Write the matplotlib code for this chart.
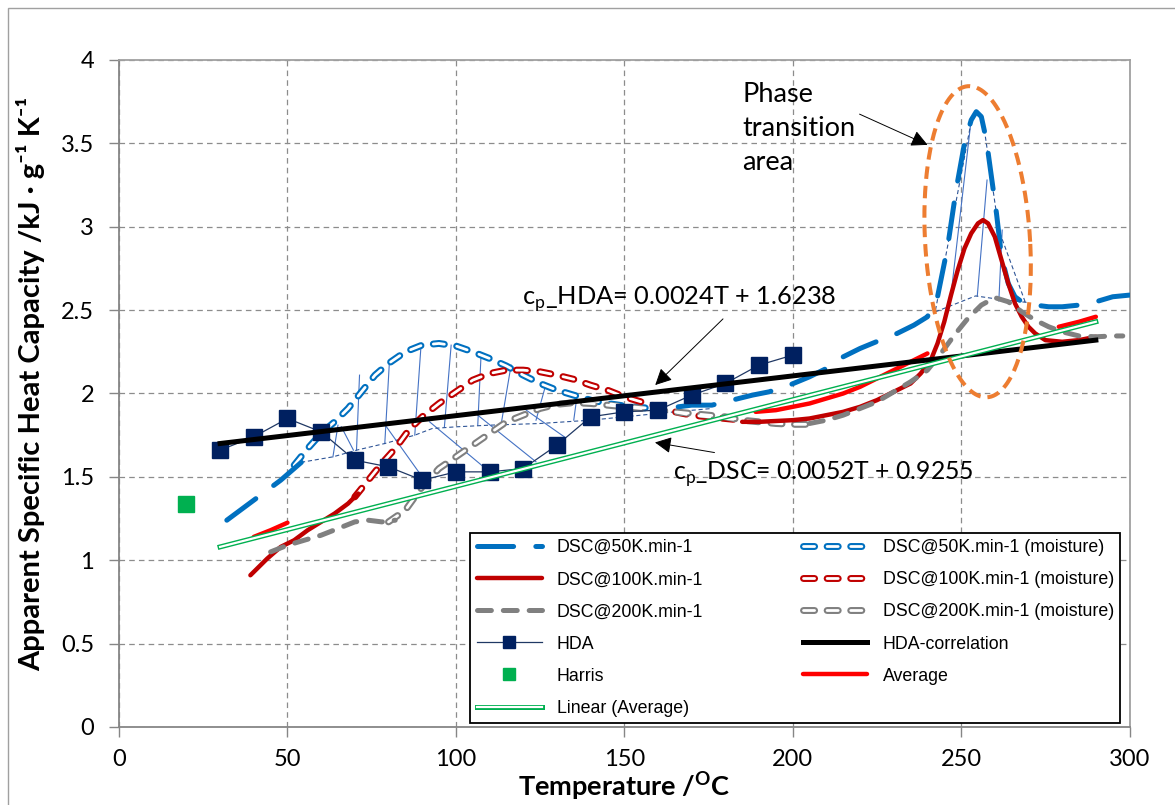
import numpy as np
import matplotlib
matplotlib.use('Agg')
import matplotlib.pyplot as plt
from matplotlib.patches import Rectangle

plt.rcParams['font.family'] = ['Lato', 'DejaVu Sans']
plt.rcParams['mathtext.fontset'] = 'custom'
plt.rcParams['mathtext.rm'] = 'Lato'
plt.rcParams['mathtext.bf'] = 'Lato:bold'
plt.rcParams['lines.scale_dashes'] = False
plt.rcParams['axes.unicode_minus'] = False

nan = np.nan

# HDA measurements
hda_T = [30, 40, 50, 60, 70, 80, 90, 100, 110, 120, 130, 140, 150, 160, 170, 180, 190, 200]
hda_cp = [1.66, 1.74, 1.85, 1.77, 1.60, 1.56, 1.48, 1.53, 1.53, 1.55, 1.69, 1.86, 1.89, 1.90, 1.99, 2.06, 2.17, 2.23]

harris_T = [20]
harris_cp = [1.34]

# DSC 50 K/min (dry part, moisture part)
d50_T = [32, 36, 40, 44, 48, 52, 56, nan,
         166, 170, 176, 182, 188, 193, 199, 205, 210, 215, 220, 226, 231, 236, 240,
         243, 246, 248.5, 251, 253, 254.5, 256, 257.5, 259, 260.5, 262, 264, 266, 268,
         272, 276, 280, 285, 290, 295, 300]
d50_cp = [1.24, 1.30, 1.36, 1.42, 1.48, 1.55, 1.62, nan,
          1.92, 1.93, 1.93, 1.96, 1.99, 2.01, 2.05, 2.10, 2.15, 2.22, 2.27, 2.32, 2.36, 2.41, 2.46,
          2.58, 2.88, 3.22, 3.50, 3.64, 3.69, 3.66, 3.52, 3.30, 3.08, 2.82, 2.66, 2.58, 2.55,
          2.53, 2.52, 2.52, 2.53, 2.55, 2.58, 2.59]
d50m_T = [52, 56, 60, 64, 68, 72, 76, 80, 85, 90, 95, 100, 105, 110, 115, 120, 125, 130, 135, 140, 145, 150, 155, 160]
d50m_cp = [1.57, 1.67, 1.76, 1.83, 1.91, 2.01, 2.11, 2.18, 2.25, 2.29, 2.30, 2.285, 2.25, 2.21, 2.165, 2.11,
           2.06, 2.02, 1.99, 1.96, 1.94, 1.925, 1.915, 1.91]

# DSC 100 K/min
d100_T = [39, 44, 48, 52, 56, 60, 64, 68, 71, nan,
          185, 190, 195, 200, 205, 210, 215, 220, 225, 230, 235, 238, 241, 243, 245, 247, 249,
          251, 253, 255, 256.5, 258, 260, 262, 264, 266, 268, 270, 272, 275, 280, 285, 290]
d100_cp = [0.91, 1.01, 1.08, 1.12, 1.18, 1.23, 1.28, 1.34, 1.40, nan,
           1.83, 1.83, 1.835, 1.84, 1.85, 1.87, 1.89, 1.92, 1.96, 2.01, 2.06, 2.12, 2.20, 2.30, 2.43, 2.59, 2.74,
           2.87, 2.96, 3.02, 3.04, 3.02, 2.94, 2.80, 2.66, 2.54, 2.46, 2.40, 2.36, 2.32, 2.31, 2.32, 2.34]
d100m_T = [70, 74, 78, 82, 86, 90, 95, 100, 105, 110, 115, 120, 125, 130, 135, 140, 145, 150, 155, 160,
           165, 170, 175, 180, 185]
d100m_cp = [1.38, 1.48, 1.58, 1.67, 1.78, 1.86, 1.94, 2.01, 2.08, 2.12, 2.14, 2.14, 2.13, 2.11, 2.085, 2.05,
            2.02, 1.98, 1.95, 1.92, 1.89, 1.87, 1.86, 1.85, 1.84]

# DSC 200 K/min
d200_T = [45, 50, 55, 60, 65, 70, 74, 78, 82, nan,
          205, 210, 215, 220, 225, 230, 235, 240, 244, 248, 252, 256, 260, 264, 268, 272, 276, 280,
          285, 290, 295, 298]
d200_cp = [1.05, 1.09, 1.12, 1.15, 1.19, 1.23, 1.24, 1.23, 1.24, nan,
           1.82, 1.84, 1.87, 1.91, 1.95, 2.01, 2.07, 2.14, 2.24, 2.35, 2.45, 2.53, 2.575, 2.55, 2.49, 2.44,
           2.40, 2.37, 2.345, 2.34, 2.345, 2.345]
d200m_T = [80, 85, 90, 95, 100, 105, 110, 115, 120, 125, 130, 135, 140, 145, 150, 155, 160, 165, 170, 175,
           180, 185, 190, 195, 200, 205]
d200m_cp = [1.23, 1.30, 1.44, 1.55, 1.62, 1.69, 1.76, 1.83, 1.87, 1.91, 1.935, 1.945, 1.94, 1.93, 1.92, 1.91,
            1.90, 1.89, 1.88, 1.87, 1.86, 1.84, 1.83, 1.82, 1.815, 1.815]

# Average of the dry runs
avg_T = [40, 45, 50, nan, 189, 195, 200, 205, 210, 215, 220, 225, 230, 235, 240, nan, 279, 285, 290]
avg_cp = [1.14, 1.18, 1.225, nan, 1.89, 1.90, 1.92, 1.94, 1.97, 2.00, 2.04, 2.09, 2.14, 2.19, 2.24, nan, 2.40, 2.43, 2.46]

# trend lines (end points)
corr_T = [30, 290]
corr_cp = [1.70, 2.32]
lin_T = [30, 290]
lin_cp = [1.08, 2.43]

# hand drawn hatch (moisture / transition area)
hatch_top_T = [65, 71.4, 80.3, 89.7, 98.6, 107.5, 116.4, 126.8, 136, 66, 79.4, 92.2, 106.5, 120.9,
               252.8, 257.7, 262.2]
hatch_top_cp = [1.81, 2.11, 2.20, 2.30, 2.29, 2.24, 2.17, 2.06, 1.99, 1.80, 1.80, 1.83, 1.87, 1.90,
                3.61, 3.28, 2.98]
hatch_bot_T = [63.5, 70.5, 78.9, 87.8, 96.6, 106.5, 113.4, 123.8, 135, 69.6, 90, 110, 123.8, 132.2,
               246.9, 254.8, 261.2]
hatch_bot_cp = [1.62, 1.66, 1.70, 1.75, 1.80, 1.81, 1.81, 1.84, 1.84, 1.66, 1.50, 1.53, 1.59, 1.74,
                2.575, 2.585, 2.555]
env_T = [52, 63.5, 70.5, 78.9, 87.8, 93, 100, 110, 125, 140, 150, 165, 176, nan,
         242.4, 254.3, 261.2, 270, nan, 242.4, 252.8, nan, 257.2, 261.2, 269]
env_cp = [1.58, 1.62, 1.66, 1.70, 1.75, 1.79, 1.80, 1.81, 1.82, 1.84, 1.86, 1.89, 1.91, nan,
          2.49, 2.585, 2.565, 2.545, nan, 2.50, 3.61, nan, 3.54, 2.98, 2.55]

x_ticks = [0, 50, 100, 150, 200, 250, 300]
y_ticks = [0, 0.5, 1, 1.5, 2, 2.5, 3, 3.5, 4]
y_tick_labels = ['0', '0.5', '1', '1.5', '2', '2.5', '3', '3.5', '4']

BLUE = '#0070C0'
DRED = '#C00000'
GREY = '#808080'
NAVY = '#002060'
GREEN = '#00B050'

fig = plt.figure(figsize=(11.75, 8.05), dpi=100)
ax = fig.add_axes([0.1013, 0.0969, 0.8600, 0.8286])

fig.patches.append(Rectangle((8 / 1175, -0.05), 1.1, 1.05 - 8 / 805, transform=fig.transFigure,
                             fill=False, edgecolor='#A0A0A0', lw=1.0))


def hollow(x, y, color, z=3):
    outer, = ax.plot(x, y, color=color, lw=5.0, dashes=(8, 9), dash_capstyle='round',
                     solid_capstyle='round', zorder=z)
    inner, = ax.plot(x, y, color='white', lw=2.0, dashes=(8, 9), dash_capstyle='round', zorder=z + 0.01)
    return (outer, inner)


# hatch lines
for t0, c0, t1, c1 in zip(hatch_top_T, hatch_top_cp, hatch_bot_T, hatch_bot_cp):
    ax.plot([t0, t1], [c0, c1], color='#4472C4', lw=0.8, zorder=2)
ax.plot(env_T, env_cp, color='#2F5597', lw=0.8, dashes=(3, 2), zorder=2)

h50m = hollow(d50m_T, d50m_cp, BLUE)
h100m = hollow(d100m_T, d100m_cp, DRED)
h200m = hollow(d200m_T, d200m_cp, GREY)

h50, = ax.plot(d50_T, d50_cp, color=BLUE, lw=3.6, dashes=(26, 16), dash_capstyle='round', zorder=3.2)
h100, = ax.plot(d100_T, d100_cp, color=DRED, lw=3.2, solid_capstyle='round', zorder=3.2)
h200, = ax.plot(d200_T, d200_cp, color=GREY, lw=3.6, dashes=(10, 8.6), dash_capstyle='round', zorder=3.2)

hHDA, = ax.plot(hda_T, hda_cp, color='#203864', lw=0.9, marker='s', ms=11, mfc=NAVY, mec=NAVY, zorder=4)
hHarris, = ax.plot(harris_T, harris_cp, ls='none', marker='s', ms=11, mfc=GREEN, mec=GREEN, zorder=4)

hAvg, = ax.plot(avg_T, avg_cp, color='#FF0000', lw=3.2, solid_capstyle='round', zorder=4.5)
hCorr, = ax.plot(corr_T, corr_cp, color='black', lw=3.6, zorder=5)
lin_o, = ax.plot(lin_T, lin_cp, color=GREEN, lw=3.6, zorder=5.5)
lin_i, = ax.plot(lin_T, lin_cp, color='white', lw=1.6, zorder=5.6)

# phase transition ellipse
t = np.linspace(0, 2 * np.pi, 300)
ell_T = 254.9 + 15.6 * np.cos(t) - 2.5 * np.sin(t)
ell_cp = 2.91 + 0.933 * np.sin(t)
ax.plot(ell_T, ell_cp, color='#ED7D31', lw=2.9, dashes=(9, 5), zorder=7)

# annotations
ax.text(185, 3.87, 'Phase\ntransition\narea', fontsize=19.5, va='top', ha='left', linespacing=1.45, zorder=8)
ax.annotate('', xy=(240.8, 3.484), xytext=(219.1, 3.682),
            arrowprops=dict(arrowstyle='-|>', color='black', lw=0.7, mutation_scale=25), zorder=8)
ax.text(119.5, 2.53, r'c$_{\mathregular{p}}$_HDA= 0.0024T + 1.6238', fontsize=18.3, va='baseline', zorder=8)
ax.annotate('', xy=(158.6, 2.039), xytext=(179.9, 2.459),
            arrowprops=dict(arrowstyle='-|>', color='black', lw=0.7, mutation_scale=25), zorder=8)
ax.text(164.6, 1.48, r'c$_{\mathregular{p}}$_DSC= 0.0052T + 0.9255', fontsize=17.8, va='baseline', zorder=8)
ax.annotate('', xy=(158.3, 1.709), xytext=(177.6, 1.643),
            arrowprops=dict(arrowstyle='-|>', color='black', lw=0.7, mutation_scale=25), zorder=8)

ax.set_xlim(0, 300)
ax.set_ylim(0, 4)
ax.set_xticks(x_ticks)
ax.set_yticks(y_ticks)
ax.set_yticklabels(y_tick_labels)
ax.tick_params(axis='both', labelsize=17, length=7, width=1, color='#868686', direction='out')
ax.tick_params(axis='y', pad=11)
ax.tick_params(axis='x', pad=9)
ax.grid(True, color='#8C8C8C', lw=0.9, dashes=(4, 3))
ax.set_axisbelow(True)
for sp in ax.spines.values():
    sp.set_color('#A0A0A0')
    sp.set_linewidth(1.3)
for sp in ['left', 'bottom']:
    ax.spines[sp].set_color('#868686')

ax.set_ylabel('Apparent Specific Heat Capacity /kJ · g⁻¹ K⁻¹', fontsize=21, fontweight='bold')
ax.yaxis.set_label_coords(-0.073, 0.514)
ax.set_xlabel('Temperature /$^{\\mathbf{O}}$C', fontsize=19.5, fontweight='bold')
ax.xaxis.set_label_coords(0.50, -0.064)

handles = [h50, h100, h200, hHDA, hHarris, (lin_o, lin_i),
           h50m, h100m, h200m, hCorr, hAvg]
labels = ['DSC@50K.min-1', 'DSC@100K.min-1', 'DSC@200K.min-1', 'HDA', 'Harris', 'Linear (Average)',
          'DSC@50K.min-1 (moisture)', 'DSC@100K.min-1 (moisture)', 'DSC@200K.min-1 (moisture)',
          'HDA-correlation', 'Average']
leg = ax.legend(handles, labels, ncol=2, loc='lower right', bbox_to_anchor=(0.9906, 0.006),
                prop=dict(family='Liberation Sans', size=12.8),
                frameon=True, fancybox=False, framealpha=1, edgecolor='black',
                handlelength=3.65, handletextpad=0.85, columnspacing=5.6, labelspacing=0.85,
                borderpad=0.35, borderaxespad=0.0, markerscale=0.8)
leg.get_frame().set_linewidth(1.3)
leg.set_zorder(9)

fig.savefig('out.png', dpi=100)
